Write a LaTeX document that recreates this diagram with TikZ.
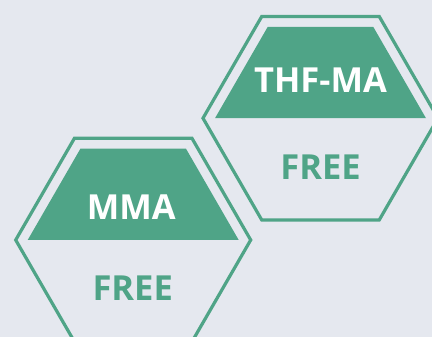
\documentclass[tikz,border=0pt]{standalone}
\usepackage{fontspec}
\setmainfont{Open Sans}
\definecolor{badgegreen}{RGB}{79,164,135}
\definecolor{bgcol}{RGB}{229,232,239}
\tikzset{
  badge frame/.style={draw=badgegreen, line width=3.2pt, line join=miter},
  badge band/.style={fill=badgegreen},
  badge title/.style={text=white, inner sep=0pt, font=\fontsize{34.5}{36}\selectfont\bfseries},
  badge state/.style={text=badgegreen, inner sep=0pt, font=\fontsize{34.5}{36}\selectfont\bfseries},
}
\begin{document}
\begin{tikzpicture}[x=1pt,y=1pt]
  \path[use as bounding box, fill=bgcol] (0,0) rectangle (432,337);
  \clip (0,0) rectangle (432,337);
  % Badge: THF-MA
\begin{scope}[shift={(320.5,218.8)}]
  \draw[badge frame] (0:117.5) -- (60:117.5) -- (120:117.5) -- (180:117.5) -- (240:117.5) -- (300:117.5) -- cycle;
  \fill[badge band] (0:105.5) -- (60:105.5) -- (120:105.5) -- (180:105.5) -- cycle;
  \node[badge title] (thfma-title) at (0,38.2) {THF-MA};
  \node[badge state] (thfma-state) at (0,-48.8) {FREE};
\end{scope}
  % Badge: MMA
\begin{scope}[shift={(133.2,97)}]
  \draw[badge frame] (0:117.5) -- (60:117.5) -- (120:117.5) -- (180:117.5) -- (240:117.5) -- (300:117.5) -- cycle;
  \fill[badge band] (0:105.5) -- (60:105.5) -- (120:105.5) -- (180:105.5) -- cycle;
  \node[badge title] (mma-title) at (-2,33) {MMA};
  \node[badge state] (mma-state) at (-0.5,-48.3) {FREE};
\end{scope}
%
\end{tikzpicture}
\end{document}
